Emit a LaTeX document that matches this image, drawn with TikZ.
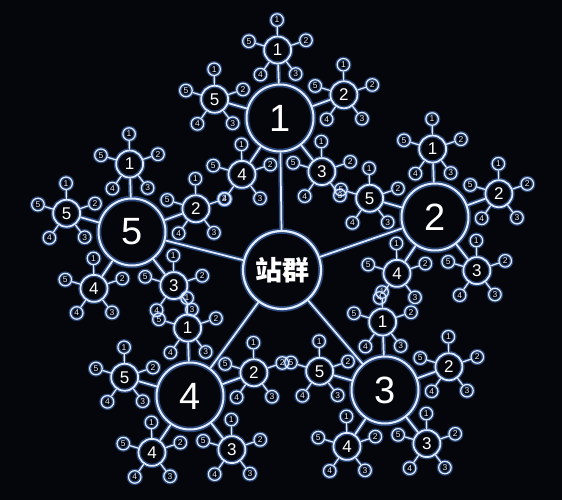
\documentclass[tikz,border=0pt]{standalone}
\usepackage{fontspec}
\setmainfont{Liberation Sans}
\newfontfamily\cjkfont{Noto Sans CJK SC}
\usetikzlibrary{calc}
\definecolor{bg}{HTML}{04060B}
\definecolor{linec}{HTML}{E2ECFF}
\definecolor{glowc}{HTML}{4F86E8}
\tikzset{
  glowbase/.style={draw=glowc, draw opacity=0.5, text opacity=0},
  hubn/.style={circle, draw=linec, line width=2.2pt, minimum size=78pt, inner sep=0pt, text=white, font=\cjkfont\bfseries\fontsize{27}{27}\selectfont},
  hubg/.style={hubn, glowbase, line width=5.5pt},
  bign/.style={circle, draw=linec, line width=2pt, minimum size=67pt, inner sep=0pt, text=white, font=\fontsize{38}{38}\selectfont},
  bigg/.style={bign, glowbase, line width=5.5pt},
  midn/.style={circle, draw=linec, line width=1.7pt, minimum size=27pt, inner sep=0pt, text=white, font=\fontsize{17}{17}\selectfont},
  midg/.style={midn, glowbase, line width=4.5pt},
  smalln/.style={circle, draw=linec, line width=1.2pt, minimum size=12.5pt, inner sep=0pt, text=linec, font=\fontsize{8.5}{8.5}\selectfont},
  smallg/.style={smalln, glowbase, line width=3.8pt},
  linkn/.style={draw=linec, line width=1.7pt},
  linkg/.style={draw=glowc, draw opacity=0.5, line width=4.8pt},
  slinkn/.style={draw=linec, line width=1.2pt},
  slinkg/.style={draw=glowc, draw opacity=0.5, line width=3.6pt},
}
\newcommand\drawnet[1]{%
  \node[hub#1] (c) at (282,-270) {站群};
  \foreach \i/\x/\y in {1/280/-118, 2/435/-217, 3/385/-390, 4/190/-396, 5/132/-232} {
    \node[big#1] (b\i) at (\x,\y) {\i};
    \draw[link#1] (c) -- (b\i);
    \foreach \j in {1,...,5} {
      \pgfmathsetmacro\aone{92-72*(\j-1)}
      \node[mid#1] (m\i\j) at ($(b\i)+(\aone:68)$) {\j};
      \draw[link#1] (b\i) -- (m\i\j);
      \foreach \k in {1,...,5} {
        \pgfmathsetmacro\atwo{91-72*(\k-1)}
        \node[small#1] (s\i\j\k) at ($(m\i\j)+(\atwo:30)$) {\k};
        \draw[slink#1] (m\i\j) -- (s\i\j\k);
      }
    }
  }%
}
\begin{document}
\begin{tikzpicture}[x=1pt,y=1pt]
\fill[bg] (0,0) rectangle (562,-500);
\useasboundingbox (0,0) rectangle (562,-500);
\drawnet{g}
\drawnet{n}
\end{tikzpicture}
\end{document}
